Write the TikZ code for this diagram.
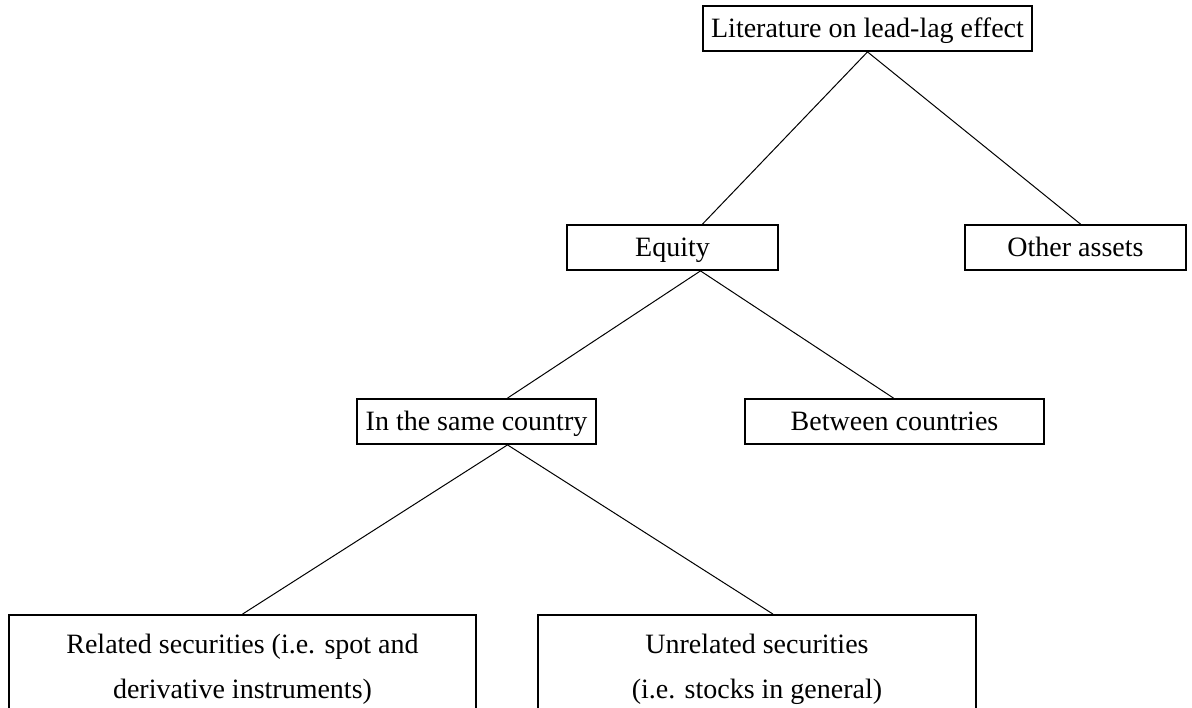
\documentclass[tikz,border=0pt]{standalone}
\usepackage{fontspec}
\setmainfont{Liberation Serif}
\begin{document}
\begin{tikzpicture}[x=1pt,y=-1pt,
  box/.style={draw,line width=1.8pt,inner sep=0pt,align=center,
    font=\fontsize{28}{45}\selectfont},
  one/.style={box,minimum height=45pt,text height=23pt,text depth=4pt},
  link/.style={line width=1pt}]
\useasboundingbox[fill=white] (0,0) rectangle (1192,708);
\node[one,minimum width=329pt] (top) at (867.5,28.5) {Literature on lead-lag effect};
\node[one,minimum width=211pt] (eq) at (672.5,247.5) {Equity};
\node[one,minimum width=221pt] (oth) at (1075.5,247.5) {Other assets};
\node[one,minimum width=239pt] (same) at (476.5,421.5) {In the same country};
\node[one,minimum width=299pt] (betw) at (894.5,421.5) {Between countries};
\node[box,minimum width=467pt,minimum height=108pt] (rel) at (242.5,669) {Related securities (i.e. spot and\\derivative instruments)};
\node[box,minimum width=438pt,minimum height=108pt] (unrel) at (757,669) {Unrelated securities\\(i.e. stocks in general)};
\draw[link] (top.south) -- ([xshift=30pt]eq.north);
\draw[link] (top.south) -- ([xshift=5pt]oth.north);
\draw[link] ([xshift=28pt]eq.south) -- ([xshift=31pt]same.north);
\draw[link] ([xshift=28pt]eq.south) -- ([xshift=-1pt]betw.north);
\draw[link] ([xshift=31pt]same.south) -- (rel.north);
\draw[link] ([xshift=31pt]same.south) -- ([xshift=16pt]unrel.north);
\end{tikzpicture}
\end{document}
